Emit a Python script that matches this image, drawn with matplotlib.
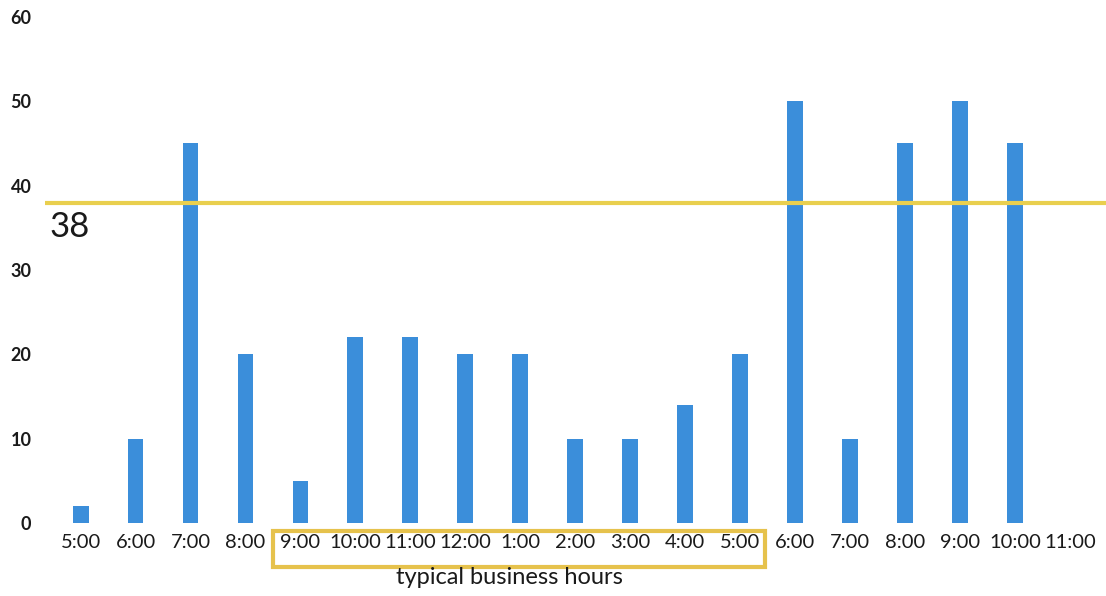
import matplotlib.pyplot as plt
from matplotlib.patches import Rectangle
import matplotlib.transforms as mtransforms

# hourly counts
hours = ["5:00", "6:00", "7:00", "8:00", "9:00", "10:00", "11:00", "12:00",
         "1:00", "2:00", "3:00", "4:00", "5:00", "6:00", "7:00", "8:00",
         "9:00", "10:00", "11:00"]
counts = [2, 10, 45, 20, 5, 22, 22, 20, 20, 10, 10, 14, 20, 50, 10, 45, 50, 45, 0]
average = 38

# business hours span (first and last index in hours)
biz_start = 4
biz_end = 12

plt.rcParams['font.family'] = ['Lato', 'DejaVu Sans']

fig = plt.figure(figsize=(11.06, 5.96), dpi=100)
ax = fig.add_axes([0.041, 0.1225, 0.959, 0.849])

x = list(range(len(hours)))
ax.bar(x, counts, width=0.29, color="#3B8EDA", zorder=2)

# the average line
ax.axhline(average, color="#E9CF4E", linewidth=3, zorder=3)
ax.text(-0.57, average - 1.0, str(average), fontsize=25, color="#1a1a1a",
        va="top", ha="left")

ax.set_xlim(-0.64, 18.65)
ax.set_ylim(0, 60)
ax.set_yticks(range(0, 61, 10))
ax.set_xticks(x)
ax.set_xticklabels(hours)

for s in ax.spines.values():
    s.set_visible(False)
ax.tick_params(length=0)
ax.tick_params(axis="y", labelsize=13, pad=10, labelcolor="#1a1a1a")
ax.tick_params(axis="x", labelsize=14.5, pad=8, labelcolor="#1a1a1a")
for lbl in ax.get_yticklabels():
    lbl.set_fontweight("bold")

# box around the business hours labels
trans = mtransforms.blended_transform_factory(ax.transData, ax.transAxes)
box = Rectangle((biz_start - 0.5, -0.087), biz_end - biz_start + 0.95, 0.071,
                transform=trans, fill=False, edgecolor="#E6C24C",
                linewidth=3, clip_on=False)
ax.add_patch(box)
ax.text((biz_start + biz_end) / 2 - 0.2, -0.107, "typical business hours",
        transform=trans, ha="center", va="center", fontsize=17,
        color="#1a1a1a")

plt.savefig("out.png", dpi=100)
